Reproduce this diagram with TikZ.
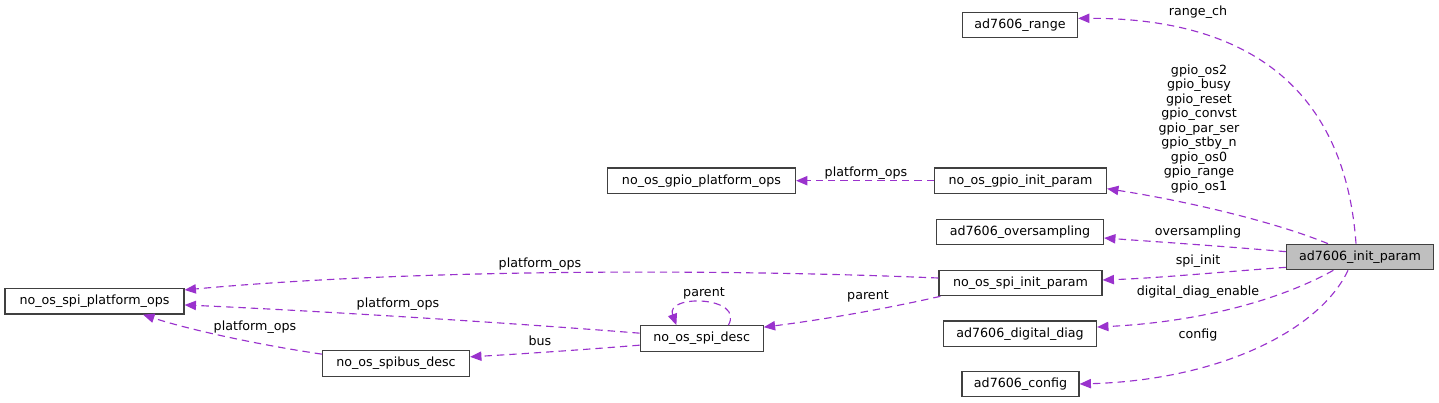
\documentclass[tikz,border=0pt]{standalone}
\usepackage{fontspec}
\setmainfont{DejaVu Sans}
\usetikzlibrary{arrows.meta}
\definecolor{edgec}{HTML}{9A32CD}
\definecolor{rootc}{HTML}{BFBFBF}
\tikzset{
  cls/.style={draw=black!75, line width=0.9pt, minimum height=19.1pt, inner sep=0pt,
    font=\fontsize{9.5}{11}\selectfont},
  rootcls/.style={cls, fill=rootc},
  lbl/.style={inner sep=0pt, align=center, font=\fontsize{9.5}{10.9}\selectfont},
  rel/.style={draw=edgec, line width=0.85pt, dash pattern=on 5.5pt off 3.75pt,
    -{Triangle[length=8.5pt,width=7pt]}, fill=none},
}
\begin{document}
\begin{tikzpicture}[x=0.75pt,y=-0.75pt]
\useasboundingbox (0,0) rectangle (1439,403);

\node[rootcls, minimum width=110.25pt] (init) at (1360,257) {ad7606\_init\_param};
\node[cls, minimum width=86.25pt] (range) at (1020,25) {ad7606\_range};
\node[cls, minimum width=129pt] (gpioinit) at (1020.5,180.7) {no\_os\_gpio\_init\_param};
\node[cls, minimum width=141pt] (gpioplat) at (701.5,180.7) {no\_os\_gpio\_platform\_ops};
\node[cls, minimum width=125.25pt] (oversamp) at (1020,232) {ad7606\_oversampling};
\node[cls, minimum width=122.25pt] (spiinit) at (1020.5,283) {no\_os\_spi\_init\_param};
\node[cls, minimum width=134.25pt] (spiplat) at (94.5,301.3) {no\_os\_spi\_platform\_ops};
\node[cls, minimum width=92.25pt] (spidesc) at (701.7,338.5) {no\_os\_spi\_desc};
\node[cls, minimum width=110.25pt] (spibus) at (396,363.5) {no\_os\_spibus\_desc};
\node[cls, minimum width=114.75pt] (diag) at (1020,333.7) {ad7606\_digital\_diag};
\node[cls, minimum width=87.75pt] (config) at (1020.5,384) {ad7606\_config};

\node[lbl] (lrange) at (1198,12) {range\_ch};
\node[lbl] (lgpio) at (1199,129) {gpio\_os2\\gpio\_busy\\gpio\_reset\\gpio\_convst\\gpio\_par\_ser\\gpio\_stby\_n\\gpio\_os0\\gpio\_range\\gpio\_os1};
\node[lbl] (lover) at (1198,232) {oversampling};
\node[lbl] (lspi) at (1198,261) {spi\_init};
\node[lbl] (ldiag) at (1198,292) {digital\_diag\_enable};
\node[lbl] (lconf) at (1198,335) {config};
\node[lbl] (lgpioops) at (866,173) {platform\_ops};
\node[lbl] (lspiops) at (540,264) {platform\_ops};
\node[lbl] (lpar) at (868,296) {parent};
\node[lbl] (lself) at (704,293) {parent};
\node[lbl] (ldescops) at (398,304) {platform\_ops};
\node[lbl] (lbus) at (540,341) {bus};
\node[lbl] (lbusops) at (255,327) {platform\_ops};

\draw[rel] ([xshift=-3pt]init.north) .. controls (1345,90) and (1250,18) .. ([yshift=5pt]range.east);
\draw[rel] ([xshift=-24pt]init.north) .. controls (1270,220) and (1180,200) .. ([yshift=-6pt]gpioinit.east);
\draw[rel] ([yshift=4pt]init.west) .. controls (1220,246) and (1160,242) .. ([yshift=-4.5pt]oversamp.east);
\draw[rel] ([yshift=2.25pt]init.south west) .. controls (1220,272) and (1160,278) .. ([yshift=2.25pt]spiinit.east);
\draw[rel] ([xshift=-20pt]init.south) .. controls (1280,300) and (1200,322) .. ([yshift=5pt]diag.east);
\draw[rel] ([xshift=-9pt]init.south) .. controls (1320,330) and (1220,380) .. (config.east);
\draw[rel] (gpioinit.west) -- (gpioplat.east);
\draw[rel] ([yshift=3.75pt]spiinit.west) .. controls (700,268) and (400,270) .. ([yshift=8.5pt]spiplat.east);
\draw[rel] ([xshift=1.5pt]spiinit.south west) .. controls (880,310) and (820,320) .. ([yshift=-1.5pt]spidesc.north east);
\draw[rel] ([yshift=4pt]spidesc.west) .. controls (500,322) and (300,310) .. ([yshift=-2.75pt]spiplat.east);
\draw[rel] ([xshift=20pt]spidesc.north) .. controls (745,296) and (665,294) .. ([xshift=-19pt]spidesc.north);
\draw[rel] ([yshift=-5pt]spidesc.west) .. controls (580,350) and (520,354) .. ([yshift=5pt]spibus.east);
\draw[rel] ([yshift=7pt]spibus.west) .. controls (260,345) and (190,330) .. ([xshift=36.4pt]spiplat.south);
\end{tikzpicture}
\end{document}
